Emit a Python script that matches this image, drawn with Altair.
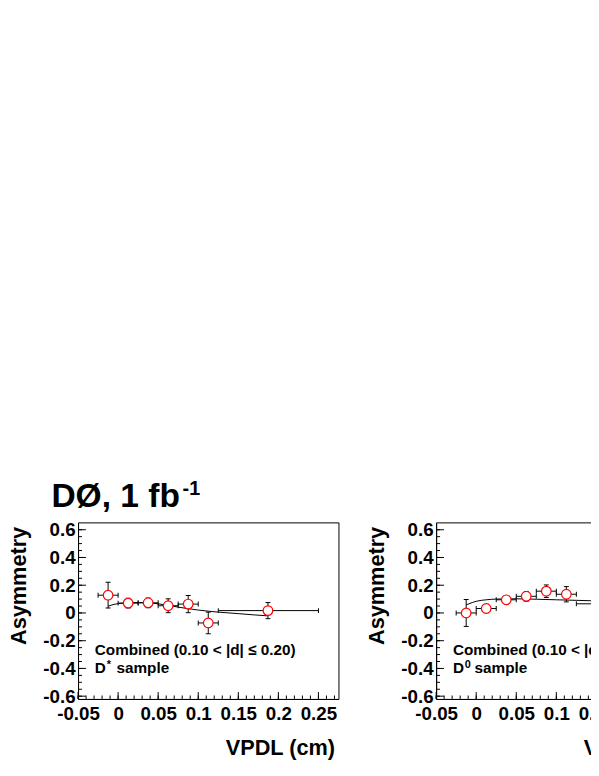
import altair as alt
import pandas as pd

FONT = "Liberation Sans"

# ---- axis definitions ----
x_domain = [-0.05, 0.275]
y_domain = [-0.62, 0.653]
x_major = [-0.05, 0.0, 0.05, 0.1, 0.15, 0.2, 0.25]
x_minor = [round(-0.05 + 0.01 * i, 2) for i in range(33)]
y_major = [-0.6, -0.4, -0.2, 0.0, 0.2, 0.4, 0.6]
y_minor = [round(-0.6 + 0.05 * i, 2) for i in range(25)]

x_title = "VPDL (cm)"
y_title = "Asymmetry"
main_title = "DØ, 1 fb"
main_title_sup = "-1"
selection_text = "Combined (0.10 < |d| ≤ 0.20)"

# ---- D* sample ----
dstar_x = [-0.0125, 0.0125, 0.0375, 0.0625, 0.0875, 0.1125, 0.187]
dstar_xlo = [-0.025, 0.0, 0.025, 0.05, 0.075, 0.1, 0.125]
dstar_xhi = [0.0, 0.025, 0.05, 0.075, 0.1, 0.125, 0.25]
dstar_y = [0.128, 0.071, 0.073, 0.052, 0.064, -0.072, 0.017]
dstar_yerr = [0.093, 0.035, 0.035, 0.05, 0.062, 0.078, 0.058]
dstar_fit_x = [-0.0125, -0.005, 0.0, 0.0125, 0.025, 0.0375, 0.05, 0.0625, 0.075,
               0.0875, 0.1, 0.1125, 0.125, 0.15, 0.17, 0.187]
dstar_fit_y = [0.048, 0.062, 0.067, 0.073, 0.075, 0.073, 0.066, 0.055, 0.042,
               0.031, 0.021, 0.013, 0.006, -0.005, -0.014, -0.021]

# ---- D0 sample ----
dzero_x = [-0.0125, 0.0125, 0.0375, 0.0625, 0.0875, 0.1125, 0.187]
dzero_xlo = [-0.025, 0.0, 0.025, 0.05, 0.075, 0.1, 0.125]
dzero_xhi = [0.0, 0.025, 0.05, 0.075, 0.1, 0.125, 0.25]
dzero_y = [0.0, 0.032, 0.095, 0.12, 0.157, 0.135, 0.066]
dzero_yerr = [0.097, 0.03, 0.03, 0.035, 0.045, 0.055, 0.05]
dzero_fit_x = [-0.0125, -0.005, 0.0, 0.0125, 0.025, 0.0375, 0.05, 0.075, 0.1,
               0.125, 0.15, 0.187]
dzero_fit_y = [0.058, 0.075, 0.084, 0.095, 0.1, 0.102, 0.102, 0.099, 0.095,
               0.091, 0.087, 0.082]

W, H = 264, 179

xscale = alt.Scale(domain=x_domain, nice=False, zero=False)
yscale = alt.Scale(domain=y_domain, nice=False, zero=False)

x_axis = alt.Axis(
    values=x_major, tickCount=40,
    labelExpr="datum.value == 0 ? '0' : replace(format(datum.value, '~g'), '\u2212', '-')",
    ticks=False, tickSize=0, grid=False,
    domainColor="black", domainWidth=1,
    labelFont=FONT, labelFontSize=19, labelFontWeight="bold", labelColor="black",
    labelPadding=6, labelFlush=False, labelOverlap=False, labelBound=False,
    title=x_title, titleFont=FONT, titleFontSize=22, titleFontWeight="bold",
    titleColor="black", titleX=W - 4, titleY=56, titleAlign="right",
    titleBaseline="alphabetic",
)
y_axis = alt.Axis(
    values=y_major, tickCount=40,
    labelExpr="datum.value == 0 ? '0' : replace(format(datum.value, '.1f'), '\u2212', '-')",
    ticks=False, tickSize=0, grid=False,
    domainColor="black", domainWidth=1,
    labelFont=FONT, labelFontSize=19, labelFontWeight="bold", labelColor="black",
    labelPadding=3, labelOverlap=False, labelFlush=False, labelBound=False,
    title=y_title, titleFont=FONT, titleFontSize=22, titleFontWeight="bold",
    titleColor="black", titleX=-48, titleY=4, titleAngle=270,
    titleAlign="right", titleBaseline="bottom",
)


def text_layer(txt, x, y, size, align="left"):
    return alt.Chart(pd.DataFrame({"t": [txt]})).mark_text(
        font=FONT, fontSize=size, fontWeight="bold", color="black",
        align=align, baseline="alphabetic",
    ).encode(text="t:N", x=alt.value(x), y=alt.value(y))


def panel(px, pxlo, pxhi, py, pyerr, fx, fy, sup, with_title):
    pts = pd.DataFrame({"x": px, "xlo": pxlo, "xhi": pxhi, "y": py, "err": pyerr})
    pts["ylo"] = pts["y"] - pts["err"]
    pts["yhi"] = pts["y"] + pts["err"]
    fit = pd.DataFrame({"x": fx, "y": fy})

    curve = alt.Chart(fit).mark_line(color="black", strokeWidth=1, interpolate="monotone").encode(
        x=alt.X("x:Q", scale=xscale, axis=x_axis),
        y=alt.Y("y:Q", scale=yscale, axis=y_axis),
    )
    b = alt.Chart(pts)
    xbar = b.mark_rule(color="black", strokeWidth=1).encode(
        x=alt.X("xlo:Q", scale=xscale), x2="xhi:Q",
        y=alt.Y("y:Q", scale=yscale))
    ybar = b.mark_rule(color="black", strokeWidth=1).encode(
        x=alt.X("x:Q", scale=xscale),
        y=alt.Y("ylo:Q", scale=yscale), y2="yhi:Q")
    caps = []
    for f in ["xlo", "xhi"]:
        caps.append(b.mark_tick(orient="vertical", size=5, thickness=1, color="black", opacity=1).encode(
            x=alt.X(f + ":Q", scale=xscale),
            y=alt.Y("y:Q", scale=yscale)))
    for f in ["ylo", "yhi"]:
        caps.append(b.mark_tick(orient="horizontal", size=5, thickness=1, color="black", opacity=1).encode(
            x=alt.X("x:Q", scale=xscale),
            y=alt.Y(f + ":Q", scale=yscale)))
    points = b.mark_point(shape="circle", filled=True, fill="white", stroke="#ff0000",
                          strokeWidth=1.2, size=95, opacity=1).encode(
        x=alt.X("x:Q", scale=xscale),
        y=alt.Y("y:Q", scale=yscale))

    xmaj = alt.Chart(pd.DataFrame({"v": x_major})).mark_rule(color="black", strokeWidth=1).encode(
        x=alt.X("v:Q", scale=xscale), y=alt.value(H), y2=alt.value(H - 7))
    xmin = alt.Chart(pd.DataFrame({"v": x_minor})).mark_rule(color="black", strokeWidth=1).encode(
        x=alt.X("v:Q", scale=xscale), y=alt.value(H), y2=alt.value(H - 3.5))
    ymaj = alt.Chart(pd.DataFrame({"v": y_major})).mark_rule(color="black", strokeWidth=1).encode(
        y=alt.Y("v:Q", scale=yscale), x=alt.value(0), x2=alt.value(8))
    ymin = alt.Chart(pd.DataFrame({"v": y_minor})).mark_rule(color="black", strokeWidth=1).encode(
        y=alt.Y("v:Q", scale=yscale), x=alt.value(0), x2=alt.value(4))

    texts = [
        text_layer(selection_text, 17, 134, 15.5),
        text_layer("D", 17, 153, 15.5),
        text_layer(sup, 29, 148, 11),
        text_layer("sample", 39, 153, 15.5),
    ]
    if with_title:
        texts.append(text_layer(main_title, -27, -16, 34))
        texts.append(text_layer(main_title_sup, 106, -28, 20))

    return alt.layer(curve, xbar, ybar, *caps, points, xmaj, xmin, ymaj, ymin, *texts).properties(
        width=W, height=H)


p1 = panel(dstar_x, dstar_xlo, dstar_xhi, dstar_y, dstar_yerr, dstar_fit_x, dstar_fit_y, "*", True)
p2 = panel(dzero_x, dzero_xlo, dzero_xhi, dzero_y, dzero_yerr, dzero_fit_x, dzero_fit_y, "0", False)

chart = alt.hconcat(p1, p2, spacing=26).properties(
    autosize=alt.AutoSizeParams(type="none"),
    padding={"left": 71, "top": 515, "right": 520, "bottom": 245},
    background="white",
).configure_view(stroke="black", strokeWidth=1).configure_axis(labelOverlap=False)

chart.save("out.html", embed_options={"renderer": "svg", "actions": False})
